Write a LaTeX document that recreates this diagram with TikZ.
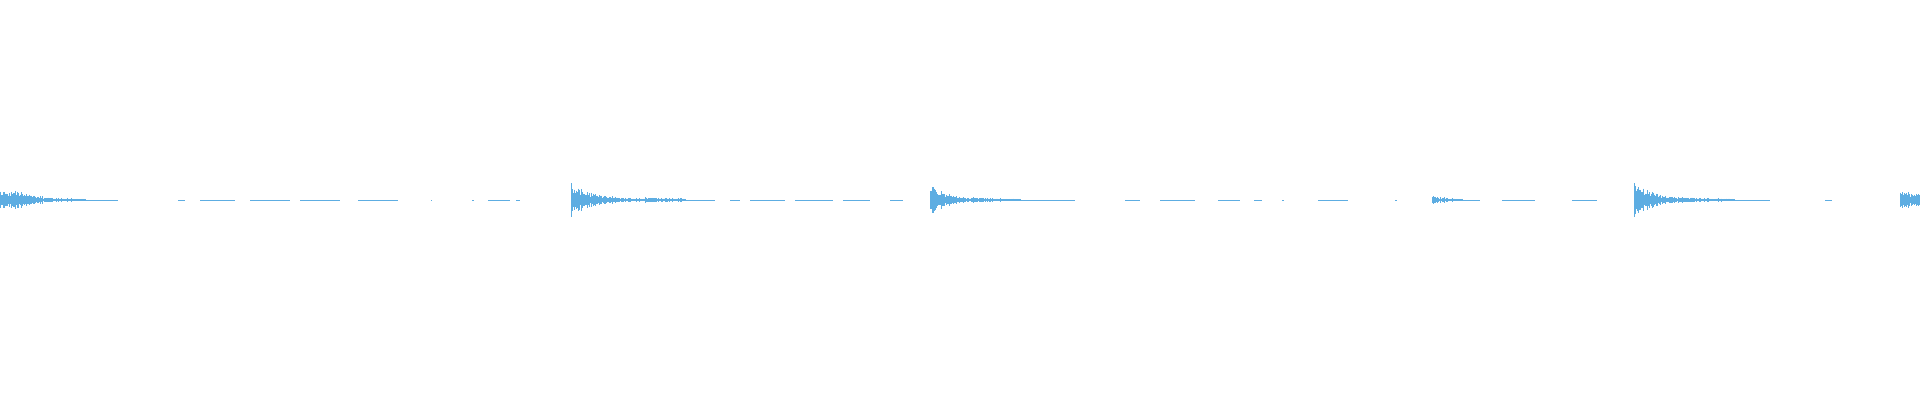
\documentclass[tikz,border=0pt]{standalone}
\definecolor{wave}{HTML}{5DADE2}
\tikzset{seg/.style={draw=wave,line width=0.9pt},bar/.style={draw=wave,line width=1pt}}
\newcommand{\burst}[4]{% x0, amp, length, tau
  \foreach \i in {0,...,#3}{
    \pgfmathsetmacro{\h}{max(0.6,#2*exp(-\i/#4)*(0.4+0.6*rnd)+1.2*rnd)}
    \draw[bar] (#1+\i,200-\h) -- (#1+\i,200+\h);
  }}
\begin{document}
\begin{tikzpicture}[x=1pt,y=-1pt]
\useasboundingbox (0,0) rectangle (1920,400);
\pgfmathsetseed{7}
\foreach \i in {0,...,85}{
  \pgfmathsetmacro{\h}{max(0.6,(\i<14?9:9*exp(-(\i-14)/25))*(0.4+0.6*rnd)+rnd)}
  \draw[bar] (\i,200-\h) -- (\i,200+\h);}
\draw[seg] (85,200) -- (118,200);
\burst{571}{17}{110}{22}
\burst{645}{3}{40}{25}
\draw[seg] (571,200) -- (715,200);
\burst{930}{15}{90}{18}
\burst{970}{2}{30}{25}
\draw[seg] (930,200) -- (1075,200);
\burst{1432}{4}{30}{12}
\draw[seg] (1432,200) -- (1480,200);
\burst{1634}{18}{100}{20}
\burst{1680}{2.5}{50}{25}
\draw[seg] (1634,200) -- (1770,200);
\burst{1900}{10}{20}{30}
\foreach \a/\b in {178/185,200/235,250/290,300/340,358/398,431/432,472/474,488/510,516/520,
  730/740,750/785,795/833,843/870,890/903,1125/1140,1160/1195,1218/1240,1254/1262,1282/1284,1318/1348,1395/1397,
  1502/1535,1572/1597,1825/1832}
  \draw[seg] (\a,200) -- (\b,200);
\end{tikzpicture}
\end{document}
